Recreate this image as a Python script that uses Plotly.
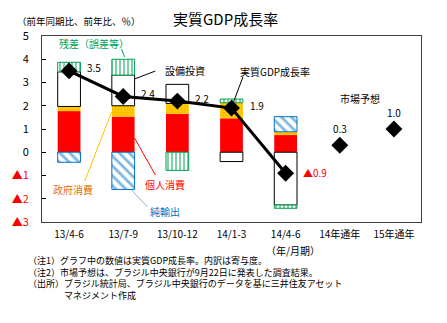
import plotly.graph_objects as go

# ---- data ----
categories = ["13/4-6", "13/7-9", "13/10-12", "14/1-3", "14/4-6", "14年通年", "15年通年"]
personal = [1.77, 1.53, 1.65, 1.46, 0.74, None, None]      # 個人消費
government = [0.20, 0.47, 0.45, 0.67, 0.14, None, None]    # 政府消費
net_exports = [-0.43, -1.60, None, None, 0.65, None, None] # 純輸出
investment = [1.49, 1.32, 0.82, -0.40, -2.27, None, None]  # 設備投資
residual = [0.41, 0.68, -0.78, 0.16, -0.14, None, None]    # 残差（誤差等）
gdp = [3.5, 2.4, 2.2, 1.9, -0.9, None, None]               # 実質GDP成長率
forecast = [None, None, None, None, None, 0.3, 1.0]        # 市場予想
ytick_vals = [5, 4, 3, 2, 1, 0, -1, -2, -3]

FONT = "Noto Sans CJK JP"
W, H = 447, 323
L, R, T, B = 40, 26, 36, 101
PW, PH = W - L - R, H - T - B


def P(px, py):
    return (px - L) / PW, (H - B - py) / PH


def fmt(v):
    return ("▲%.1f" % abs(v)) if v < 0 else ("%.1f" % v)


def ytick_text(v):
    if v < 0:
        return "<span style='color:#FF0000'>▲%d</span>" % abs(v)
    return str(v)


fig = go.Figure()
bw = 0.42
fig.add_bar(x=categories, y=personal, name="個人消費", width=bw,
            marker=dict(color="#FF0000", line=dict(width=0)))
fig.add_bar(x=categories, y=government, name="政府消費", width=bw,
            marker=dict(color="#FFCC00", line=dict(width=0),
                        pattern=dict(shape=".", fgcolor="#FF9900", bgcolor="#FFCC00", size=3, solidity=0.3)))
fig.add_bar(x=categories, y=net_exports, name="純輸出", width=bw,
            marker=dict(color="white", line=dict(width=1, color="#0070C0"),
                        pattern=dict(shape="\\", fgcolor="#0070C0", bgcolor="white", size=7, solidity=0.4)))
fig.add_bar(x=categories, y=investment, name="設備投資", width=bw,
            marker=dict(color="white", line=dict(width=1, color="#000000")))
fig.add_bar(x=categories, y=residual, name="残差（誤差等）", width=bw,
            marker=dict(color="white", line=dict(width=1, color="#00A050"),
                        pattern=dict(shape="|", fgcolor="#00A050", bgcolor="white", size=4, solidity=0.5)))
fig.add_scatter(x=categories, y=gdp, mode="lines+markers", name="実質GDP成長率",
                line=dict(color="black", width=3),
                marker=dict(symbol="diamond", size=13, color="black"))
fig.add_scatter(x=categories, y=forecast, mode="markers", name="市場予想",
                marker=dict(symbol="diamond", size=13, color="black"))

ann = []
# value labels
for i, v in enumerate(gdp):
    if v is None:
        continue
    ann.append(dict(x=categories[i], y=v, xref="x", yref="y", text=fmt(v), showarrow=False,
                    xshift=25 if v >= 0 else 29, yshift=3 if v >= 0 else 1,
                    font=dict(size=10, color="#FF0000" if v < 0 else "black")))
for i, v in enumerate(forecast):
    if v is None:
        continue
    ann.append(dict(x=categories[i], y=v, xref="x", yref="y", text=fmt(v), showarrow=False,
                    yshift=17, font=dict(size=10, color="black")))


def text_at(px, py, text, size=10, color="black", xanchor="center", align="center"):
    x, y = P(px, py)
    ann.append(dict(x=x, y=y, xref="paper", yref="paper", text=text, showarrow=False,
                    xanchor=xanchor, yanchor="middle", align=align,
                    font=dict(size=size, color=color, family=FONT)))


text_at(224, 18, "実質GDP成長率", size=15)
text_at(13, 21, "（前年同期比、前年比、％）", size=9.5, xanchor="left")
text_at(92, 44, "残差（誤差等）", color="#00A050")
text_at(184, 70, "設備投資")
text_at(274, 71, "実質GDP成長率")
text_at(360, 98, "市場予想")
text_at(71, 189, "政府消費", color="#E36C09")
text_at(164, 184, "個人消費", color="#FF0000")
text_at(164, 211, "純輸出", color="#0070C0")
text_at(292, 250, "（年/月期）")
notes = ["（注1）グラフ中の数値は実質GDP成長率。内訳は寄与度。",
         "（注2）市場予想は、ブラジル中央銀行が9月22日に発表した調査結果。",
         "（出所）ブラジル統計局、ブラジル中央銀行のデータを基に三井住友アセット",
         "　　　　マネジメント作成"]
text_at(24, 278, "<br>".join(notes), size=9, xanchor="left", align="left")

shapes = []


def leader(p1, p2, color):
    x0, y0 = P(*p1)
    x1, y1 = P(*p2)
    shapes.append(dict(type="line", xref="paper", yref="paper", x0=x0, y0=y0, x1=x1, y1=y1,
                       line=dict(color=color, width=1)))


leader((120, 49), (123, 57), "#00A050")
leader((133, 79), (154, 71), "black")
leader((231, 106), (242, 77), "black")
leader((83, 181), (110, 112), "#FFC000")
leader((154, 175), (133, 138), "#FF0000")
leader((146, 207), (130, 190), "#8DB4E2")

fig.update_layout(
    width=W, height=H, margin=dict(l=L, r=R, t=T, b=B),
    barmode="relative", bargap=0.58, showlegend=False,
    plot_bgcolor="white", paper_bgcolor="white",
    font=dict(family=FONT, size=10, color="black"),
    annotations=ann, shapes=shapes,
    xaxis=dict(type="category", categoryorder="array", categoryarray=categories,
               range=[-0.5, 6.5], showline=True, linecolor="#404040", linewidth=1, mirror=True,
               ticks="", showgrid=False, tickfont=dict(size=10), ticklabelstandoff=3),
    xaxis2=dict(overlaying="x", anchor="free", position=3 / 8, range=[-0.5, 6.5],
                tickvals=[k * 0.5 for k in range(0, 14)], showticklabels=False,
                ticks="inside", ticklen=4, tickcolor="black",
                showline=True, linecolor="black", linewidth=1.5, showgrid=False,
                zeroline=False),
    yaxis=dict(range=[-3, 5], tickvals=ytick_vals, ticktext=[ytick_text(v) for v in ytick_vals],
               showline=True, linecolor="#404040", linewidth=1, mirror=True,
               ticks="inside", ticklen=4, tickcolor="black", showgrid=False,
               zeroline=False,
               tickfont=dict(size=11), ticklabelstandoff=10),
)

fig.write_html("out.html")
